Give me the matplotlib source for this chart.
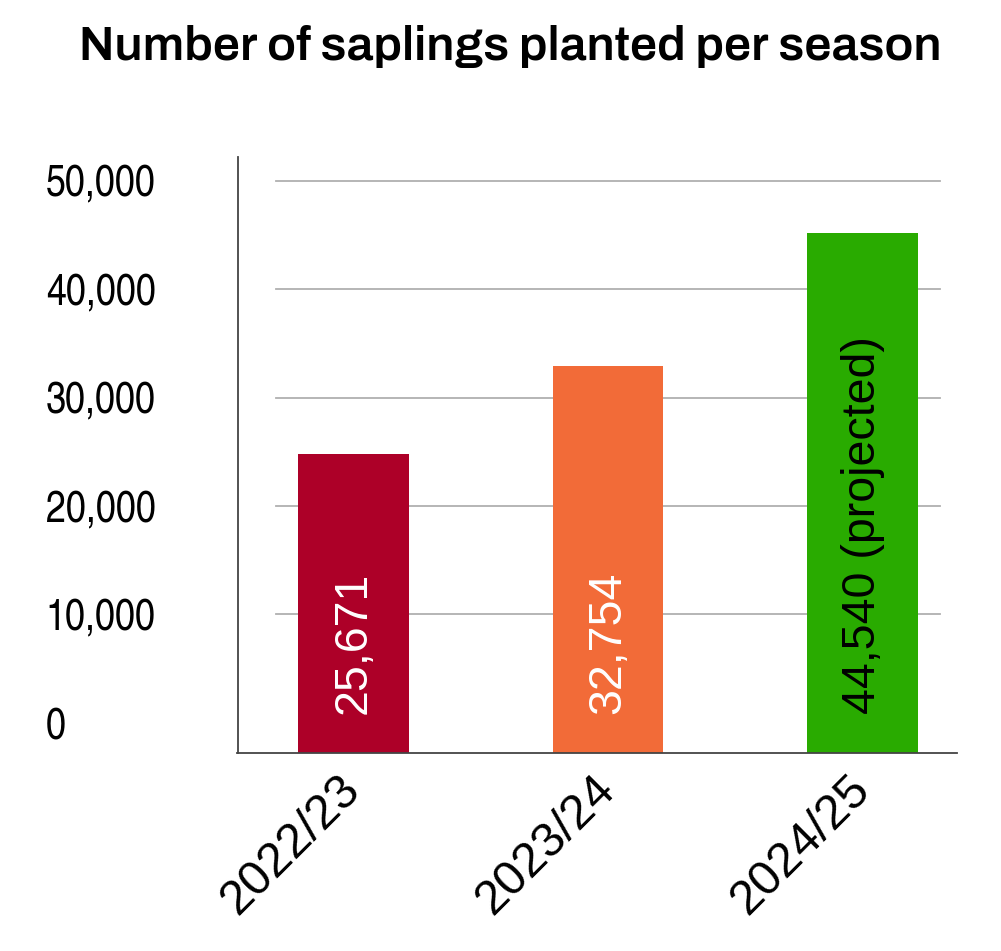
import matplotlib
matplotlib.use("Agg")
import matplotlib.pyplot as plt

# ---- data ----
seasons = ["2022/23", "2023/24", "2024/25"]
bar_values = [24800, 32950, 45200]          # bar heights as drawn
value_labels = ["25,671", "32,754", "44,540 (projected)"]
bar_colors = ["#AD0028", "#F26B38", "#29AB00"]
label_colors = ["white", "white", "black"]
y_ticks = [0, 10000, 20000, 30000, 40000, 50000]
y_tick_labels = ["0", "10,000", "20,000", "30,000", "40,000", "50,000"]
grid_values = [10000, 20000, 30000, 40000, 50000]
title = "Number of saplings planted per season"

narrow = ["TeX Gyre Heros Cn", "Roboto Condensed", "DejaVu Sans"]
sans = ["Liberation Sans", "Roboto", "DejaVu Sans"]
title_font = ["Archivo", "Roboto", "DejaVu Sans"]

W, H = 1001, 951
fig = plt.figure(figsize=(W / 100, H / 100), dpi=100)
L, R, T, B = 237.5, 957, 157, 752.5
ax = fig.add_axes([L / W, 1 - B / H, (R - L) / W, (B - T) / H])

ymin, ymax = -2750, 52200
ax.set_ylim(ymin, ymax)
x = list(range(len(seasons)))
ax.set_xlim(-0.455, 2.37)

for gv in grid_values:
    ax.axhline(gv, xmin=0.053, xmax=0.976, color="#b0b0b0", lw=1.3, zorder=1)

heights = [v - ymin for v in bar_values]
ax.bar(x, heights, bottom=ymin, width=0.435, color=bar_colors, zorder=2)

for xi, lab, col in zip(x, value_labels, label_colors):
    ax.annotate(lab, xy=(xi, ymin), xytext=(0, 28), textcoords="offset points",
                rotation=90, ha="center", va="bottom", color=col,
                fontsize=33.5, family=sans, zorder=3)

for s in ["top", "right"]:
    ax.spines[s].set_visible(False)
for s in ["left", "bottom"]:
    ax.spines[s].set_color("#444444")
    ax.spines[s].set_linewidth(1.3)

ax.set_yticks(y_ticks)
ax.set_yticklabels(y_tick_labels, fontsize=31.5, family=narrow, ha="left")
ax.tick_params(axis="y", length=0, pad=138)

ax.set_xticks(x)
ax.set_xticklabels(seasons, fontsize=35, family=sans, rotation=45,
                   ha="right", va="center", rotation_mode="anchor")
ax.tick_params(axis="x", length=0, pad=22)

fig.text(510 / W, 1 - 47 / H, title, ha="center", va="center",
         fontsize=34.8, fontweight="bold", family=title_font)

fig.savefig("out.png", dpi=100, facecolor="white")
